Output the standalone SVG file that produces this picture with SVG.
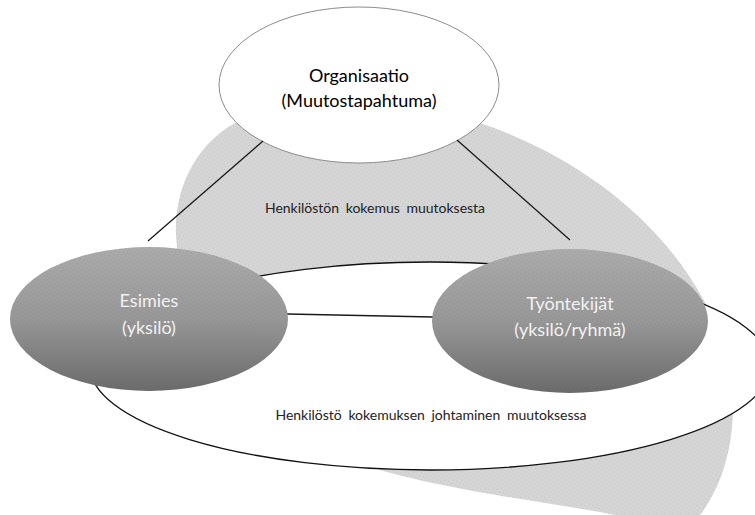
<svg xmlns="http://www.w3.org/2000/svg" width="755" height="515" viewBox="0 0 755 515">
<style>
.lbl{font-family:Lato,"Open Sans","Liberation Sans",sans-serif;text-anchor:middle}
.big{font-size:18px}
.small{font-size:14px;fill:#222;word-spacing:3px}
.wt{fill:#f2f2f2}
.conn{stroke:#1a1a1a;stroke-width:1.3;fill:none}
</style>
<defs>
<pattern id="stip" width="8" height="8" patternUnits="userSpaceOnUse">
<rect width="8" height="8" fill="#d5d5d5"/>
<rect x="0" y="1" width="1" height="1" fill="#c3c3d3"/>
<rect x="5" y="0" width="1" height="1" fill="#c8c8d6"/>
<rect x="3" y="3" width="1" height="1" fill="#c4c4d4"/>
<rect x="7" y="4" width="1" height="1" fill="#c6c6d2"/>
<rect x="1" y="6" width="1" height="1" fill="#c5c5d5"/>
<rect x="5" y="7" width="1" height="1" fill="#c9c9d5"/>
</pattern>
<pattern id="stip2" width="8" height="8" patternUnits="userSpaceOnUse">
<rect x="0" y="1" width="1" height="1" fill="#7a7a8a"/>
<rect x="5" y="0" width="1" height="1" fill="#80808e"/>
<rect x="3" y="3" width="1" height="1" fill="#7c7c8c"/>
<rect x="7" y="4" width="1" height="1" fill="#7e7e8a"/>
<rect x="1" y="6" width="1" height="1" fill="#7d7d8d"/>
<rect x="5" y="7" width="1" height="1" fill="#81818d"/>
</pattern>
<linearGradient id="grey" x1="0" y1="0" x2="0" y2="1">
<stop offset="0" stop-color="#ababab"/>
<stop offset="0.5" stop-color="#979797"/>
<stop offset="1" stop-color="#6a6a6a"/>
</linearGradient>
</defs>
<g id="kokemus">
<path d="M176 235 C174 190 195 140 245 118 C300 95 420 100 480 123 C590 160 690 240 725 350 C740 400 735 470 700 515 C685 530 650 522 600 512 C530 500 450 490 380 470 C280 430 180 330 176 235 Z" fill="url(#stip)"/>
<text class="lbl small" x="375" y="213">Henkilöstön kokemus muutoksesta</text>
</g>
<g id="organisaatio">
<ellipse cx="359" cy="85" rx="140" ry="78" fill="#fff" stroke="#8c8c8c" stroke-width="1"/>
<text class="lbl big" x="359" y="82">Organisaatio</text>
<text class="lbl big" x="359" y="107">(Muutostapahtuma)</text>
</g>
<g id="johtaminen">
<ellipse cx="430" cy="366" rx="340" ry="104" fill="#fff" stroke="#111" stroke-width="1.3"/>
<text class="lbl small" x="431" y="420">Henkilöstö kokemuksen johtaminen muutoksessa</text>
</g>
<g id="connectors">
<line class="conn" x1="263" y1="141" x2="148" y2="241"/>
<line class="conn" x1="457" y1="140" x2="570" y2="240"/>
<line class="conn" x1="287" y1="314" x2="433" y2="317"/>
</g>
<g id="esimies">
<ellipse cx="149" cy="319" rx="139" ry="72" fill="url(#grey)"/>
<ellipse cx="149" cy="319" rx="139" ry="72" fill="url(#stip2)" opacity="0.3"/>
<text class="lbl big wt" x="149" y="307">Esimies</text>
<text class="lbl big wt" x="149" y="334">(yksilö)</text>
</g>
<g id="tyontekijat">
<ellipse cx="570" cy="321" rx="138" ry="72" fill="url(#grey)"/>
<ellipse cx="570" cy="321" rx="138" ry="72" fill="url(#stip2)" opacity="0.3"/>
<text class="lbl big wt" x="570" y="310">Työntekijät</text>
<text class="lbl big wt" x="570" y="336">(yksilö/ryhmä)</text>
</g>
</svg>
